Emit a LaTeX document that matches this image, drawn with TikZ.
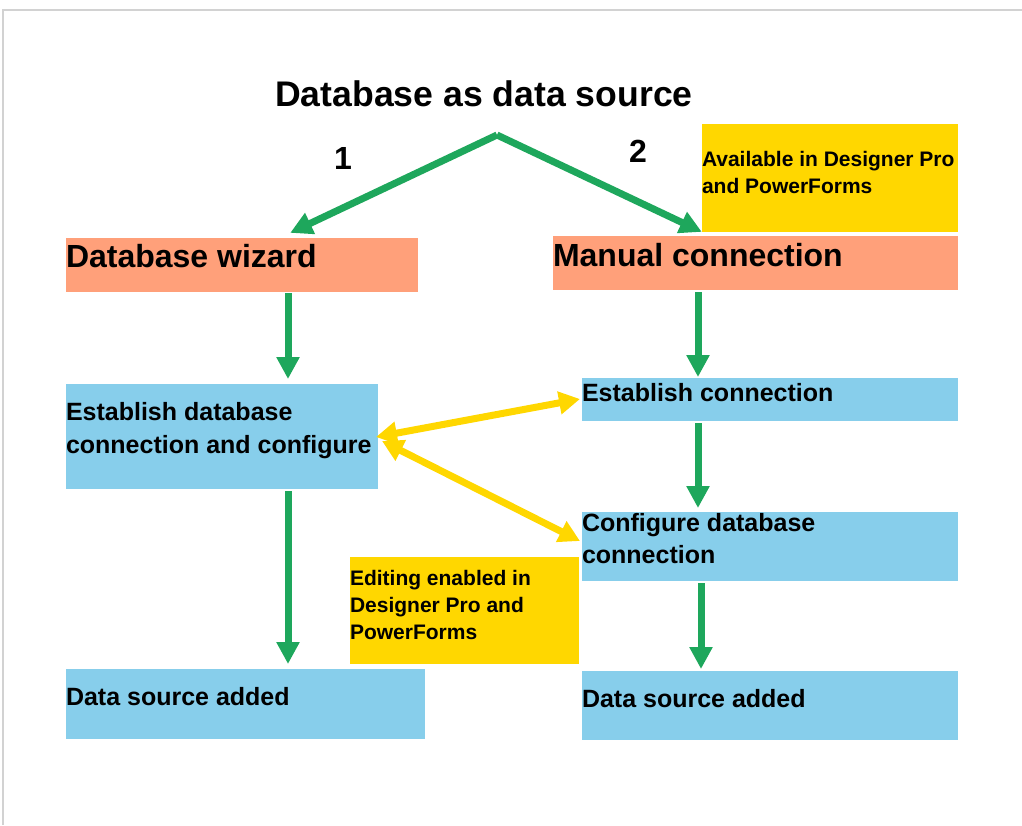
\documentclass[tikz,border=0pt]{standalone}
\usepackage{fontspec}
\setmainfont{Liberation Sans}
\usetikzlibrary{arrows.meta,calc}
\definecolor{salmonc}{HTML}{FFA07A}
\definecolor{skyc}{HTML}{87CEEB}
\definecolor{goldc}{HTML}{FFD700}
\definecolor{greenc}{RGB}{30,167,92}
\definecolor{framec}{RGB}{210,210,210}
\begin{document}
\begin{tikzpicture}[x=1pt,y=-1pt,
  box/.style={draw=none,inner sep=0,outer sep=0,anchor=north west},
  txt/.style={inner sep=0,outer sep=0,anchor=base west,text=black},
  fTitle/.style={font=\fontsize{35.6}{40}\selectfont\bfseries},
  fHead/.style={font=\fontsize{32}{38}\selectfont\bfseries},
  fBody/.style={font=\fontsize{25}{32}\selectfont\bfseries},
  fNote/.style={font=\fontsize{21}{27}\selectfont\bfseries},
  garrow/.style={draw=greenc,line width=7pt,-{Triangle[length=22pt,width=22pt]}},
  yarrow/.style={draw=goldc,line width=7pt,{Triangle[length=21pt,width=22pt]}-{Triangle[length=21pt,width=22pt]}}
]
\useasboundingbox (0,0) rectangle (1022,825);
% frame
\draw[framec,line width=1.5pt] (3,825) -- (3,10) -- (1022,10);

% title
\node[txt,fTitle,anchor=base] (title) at (484,106) {Database as data source};
\coordinate (apex) at (497,135);
\node[txt,fHead,anchor=base] (one) at (343,169) {1};
\node[txt,fHead,anchor=base] (two) at (638,162) {2};

% boxes
\node[box,fill=goldc,minimum width=256,minimum height=108] (avail) at (702,124) {};
\node[box,fill=salmonc,minimum width=352,minimum height=54] (wiz) at (66,238) {};
\node[box,fill=salmonc,minimum width=405,minimum height=54] (man) at (553,236) {};
\node[box,fill=skyc,minimum width=312,minimum height=105] (estdb) at (66,384) {};
\node[box,fill=skyc,minimum width=376,minimum height=43] (estc) at (582,378) {};
\node[box,fill=skyc,minimum width=376,minimum height=69] (conf) at (582,512) {};
\node[box,fill=goldc,minimum width=229,minimum height=107] (edit) at (350,557) {};
\node[box,fill=skyc,minimum width=359,minimum height=70] (dsL) at (66,669) {};
\node[box,fill=skyc,minimum width=376,minimum height=69] (dsR) at (582,671) {};

% texts
\node[txt,fNote] at (702,166) {Available in Designer Pro};
\node[txt,fNote] at (702,193) {and PowerForms};
\node[txt,fHead] at (66,267) {Database wizard};
\node[txt,fHead] at (553,266) {Manual connection};
\node[txt,fBody] at (66,420) {Establish database};
\node[txt,fBody] at (66,453) {connection and configure};
\node[txt,fBody] at (582,401) {Establish connection};
\node[txt,fBody] at (582,531) {Configure database};
\node[txt,fBody] at (582,563) {connection};
\node[txt,fNote] at (350,585) {Editing enabled in};
\node[txt,fNote] at (350,612) {Designer Pro and};
\node[txt,fNote] at (350,639) {PowerForms};
\node[txt,fBody] at (66,705) {Data source added};
\node[txt,fBody] at (582,707) {Data source added};

% columns for connectors
\coordinate (colL) at (288,0);
\coordinate (colR) at (698,0);
\coordinate (colR2) at (701,0);
\coordinate (tipL) at (292,232);
\coordinate (tipR) at (700,231);

% green connectors
\draw[garrow,shorten >=-2pt] (apex) -- (tipL);
\draw[garrow,shorten >=-2pt] (apex) -- (tipR);
\draw[garrow,shorten <=1pt,shorten >=5pt] (wiz.south -| colL) -- (estdb.north -| colL);
\draw[garrow,shorten <=2pt,shorten >=5pt] (estdb.south -| colL) -- (dsL.north -| colL);
\draw[garrow,shorten <=2pt,shorten >=1pt] (man.south -| colR) -- (estc.north -| colR);
\draw[garrow,shorten <=2pt,shorten >=4pt] (estc.south -| colR) -- (conf.north -| colR);
\draw[garrow,shorten <=2pt,shorten >=2pt] (conf.south -| colR2) -- (dsR.north -| colR2);

% yellow double arrows
\coordinate (yL1) at (376,437);
\coordinate (yL2) at (382,441);
\coordinate (yR1) at (580,399);
\coordinate (yR2) at (580,541);
\draw[yarrow] (yL1) -- (yR1);
\draw[yarrow] (yL2) -- (yR2);
\end{tikzpicture}
\end{document}
